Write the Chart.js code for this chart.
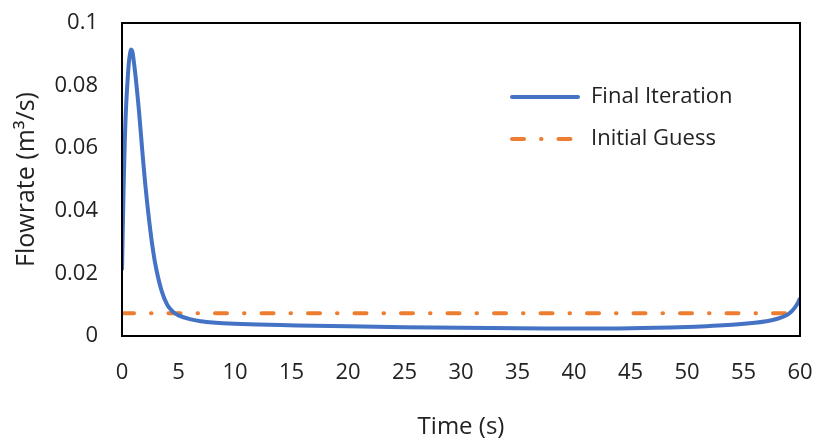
<!DOCTYPE html>
<html>
<head>
<meta charset="utf-8">
<script src="https://cdn.jsdelivr.net/npm/chart.js@4"></script>
<style>
  body { margin: 0; background: #fff; }
  canvas { display: block; }
</style>
</head>
<body>
<canvas id="flowChart" width="816" height="439"></canvas>
<script>
// values
const timeFinal = [0, 0.1, 0.2, 0.3, 0.4, 0.5, 0.6, 0.7, 0.8, 0.9, 1.0, 1.2, 1.5, 1.8, 2.1, 2.4, 2.7, 3.0, 3.5, 4.0, 4.5, 5.0,
    6, 7, 8, 10, 12, 14, 17, 20, 25, 30, 35, 40, 45, 50, 52, 54, 56, 57, 58, 58.8, 59.3, 59.7, 60];
const flowFinal = [0.021, 0.040, 0.056, 0.068, 0.076, 0.082, 0.087, 0.090, 0.0915, 0.091, 0.089, 0.083, 0.072, 0.059, 0.047, 0.037, 0.0285, 0.022, 0.0145, 0.0100, 0.0078, 0.0066,
    0.0054, 0.0047, 0.0043, 0.0039, 0.0037, 0.0035, 0.0033, 0.0031, 0.0028, 0.0026, 0.0025, 0.0024, 0.0025, 0.0029, 0.0032, 0.0036, 0.0042, 0.0047, 0.0055, 0.0066, 0.0080, 0.0099, 0.0121];
const timeGuess = [0, 60];
const flowGuess = [0.0073, 0.0073];
const xTicks = [0, 5, 10, 15, 20, 25, 30, 35, 40, 45, 50, 55, 60];
const yTicks = [0, 0.02, 0.04, 0.06, 0.08, 0.1];
const seriesNames = ['Final Iteration', 'Initial Guess'];

const FONT = "'Open Sans', 'Liberation Sans', sans-serif";
const BLUE = '#4472C4';
const ORANGE = '#ED7D31';
const GUESS_DASH = [12, 17, 0.5, 17];

const toPoints = (xs, ys) => xs.map((x, i) => ({ x: x, y: ys[i] }));

// frame round the plot area plus the legend inside it
const framePlugin = {
    id: 'frameAndLegend',
    afterDraw(chart) {
        const ctx = chart.ctx;
        const a = chart.chartArea;
        ctx.save();
        ctx.strokeStyle = '#000';
        ctx.lineWidth = 2;
        ctx.strokeRect(a.left, a.top, a.right - a.left, a.bottom - a.top);

        const items = [
            { y: 97, color: BLUE, dash: [] },
            { y: 139, color: ORANGE, dash: GUESS_DASH }
        ];
        items.forEach((it, i) => {
            ctx.beginPath();
            ctx.strokeStyle = it.color;
            ctx.lineWidth = 4;
            ctx.lineCap = 'round';
            ctx.setLineDash(it.dash);
            ctx.moveTo(512, it.y);
            ctx.lineTo(578, it.y);
            ctx.stroke();
            ctx.setLineDash([]);
            ctx.fillStyle = '#222';
            ctx.font = '22px ' + FONT;
            ctx.textBaseline = 'middle';
            ctx.fillText(seriesNames[i], 591, it.y);
        });
        ctx.restore();
    }
};

new Chart(document.getElementById('flowChart').getContext('2d'), {
    type: 'line',
    data: {
        datasets: [{
            label: seriesNames[0],
            data: toPoints(timeFinal, flowFinal),
            borderColor: BLUE,
            borderWidth: 4,
            pointRadius: 0,
            tension: 0.4,
            order: 1
        }, {
            label: seriesNames[1],
            data: toPoints(timeGuess, flowGuess),
            borderColor: ORANGE,
            borderWidth: 4,
            borderDash: GUESS_DASH,
            borderCapStyle: 'round',
            pointRadius: 0,
            order: 2
        }]
    },
    options: {
        responsive: false,
        animation: false,
        layout: { padding: { top: 23, right: 16, left: 0, bottom: 0 } },
        plugins: {
            legend: { display: false },
            tooltip: { enabled: false }
        },
        scales: {
            x: {
                type: 'linear',
                min: 0,
                max: 60,
                afterBuildTicks: scale => { scale.ticks = xTicks.map(v => ({ value: v })); },
                afterFit: scale => {
                    scale.height = 103;
                    scale.paddingLeft = 0;
                    scale.paddingRight = 0;
                },
                grid: { display: false, drawTicks: false },
                border: { display: false },
                ticks: {
                    padding: 24,
                    color: '#222',
                    font: { family: FONT, size: 22 },
                    maxRotation: 0
                },
                title: {
                    display: true,
                    text: 'Time (s)',
                    color: '#222',
                    font: { family: FONT, size: 24, lineHeight: 1 },
                    padding: 0
                }
            },
            y: {
                min: 0,
                max: 0.1,
                afterBuildTicks: scale => { scale.ticks = yTicks.map(v => ({ value: v })); },
                afterFit: scale => {
                    scale.width = 122;
                    scale.paddingTop = 0;
                    scale.paddingBottom = 0;
                },
                grid: { display: false, drawTicks: false },
                border: { display: false },
                ticks: {
                    padding: 24,
                    color: '#222',
                    font: { family: FONT, size: 22 },
                    callback: v => String(+v.toFixed(2))
                },
                title: {
                    display: true,
                    text: 'Flowrate (m³/s)',
                    color: '#222',
                    font: { family: FONT, size: 25, lineHeight: 1 },
                    padding: { top: 14, bottom: 0 }
                }
            }
        }
    },
    plugins: [framePlugin]
});
</script>
</body>
</html>
